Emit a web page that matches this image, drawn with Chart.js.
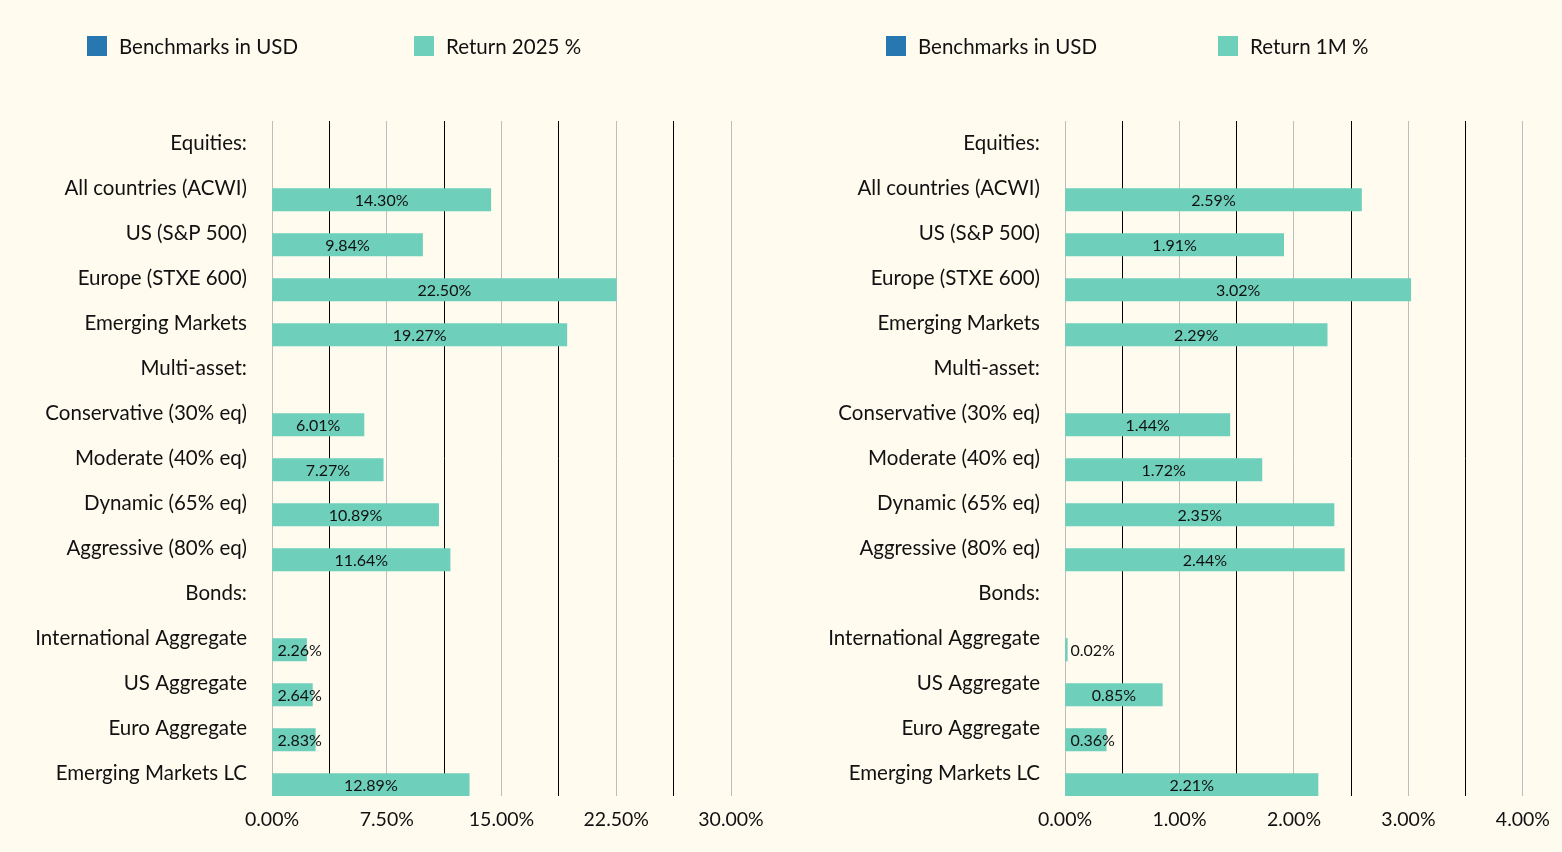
<!DOCTYPE html>
<html>
<head>
<meta charset="utf-8">
<script src="https://cdn.jsdelivr.net/npm/chart.js@4.4.1/dist/chart.umd.min.js"></script>
<style>
  body { margin:0; background:#fffbef; font-family: Lato, "Open Sans", sans-serif; }
  .wrap { position:absolute; top:0; width:781px; height:852px; }
  .legend { position:absolute; top:35px; display:flex; font-size:20.5px; color:#111; }
  .legend .item { display:flex; align-items:center; height:21px; }
  .legend .box { width:20px; height:20px; margin-right:12px; }
</style>
</head>
<body>
<div class="wrap" style="left:0"><div class="legend" id="leg1" style="left:87px"></div><canvas id="c1"></canvas></div>
<div class="wrap" style="left:781px"><div class="legend" id="leg2" style="left:105px"></div><canvas id="c2"></canvas></div>
<script>
// categories shared by both panels
var categories = ["Equities:", "All countries (ACWI)", "US (S&P 500)", "Europe (STXE 600)", "Emerging Markets",
  "Multi-asset:", "Conservative (30% eq)", "Moderate (40% eq)", "Dynamic (65% eq)", "Aggressive (80% eq)",
  "Bonds:", "International Aggregate", "US Aggregate", "Euro Aggregate", "Emerging Markets LC"];

var benchmarks = [null, null, null, null, null, null, null, null, null, null, null, null, null, null, null];
var return2025 = [null, 14.30, 9.84, 22.50, 19.27, null, 6.01, 7.27, 10.89, 11.64, null, 2.26, 2.64, 2.83, 12.89];
var return1M   = [null, 2.59, 1.91, 3.02, 2.29, null, 1.44, 1.72, 2.35, 2.44, null, 0.02, 0.85, 0.36, 2.21];

var blue = "#2778b0";
var teal = "#6ecfbb";

// data labels inside the bars
var barLabels = {
  id: 'barLabels',
  afterDatasetsDraw: function(chart) {
    var ctx = chart.ctx;
    var meta = chart.getDatasetMeta(1);
    var vals = chart.data.datasets[1].data;
    ctx.save();
    ctx.font = '16px Lato, "Open Sans", sans-serif';
    ctx.fillStyle = '#111';
    ctx.textBaseline = 'middle';
    meta.data.forEach(function(bar, i) {
      if (vals[i] == null) return;
      var txt = vals[i].toFixed(2) + '%';
      var w = ctx.measureText(txt).width;
      var bw = bar.x - bar.base;
      if (w + 10 < bw) {
        ctx.textAlign = 'center';
        ctx.fillText(txt, (bar.x + bar.base) / 2, bar.y + 1);
      } else {
        ctx.textAlign = 'left';
        ctx.fillText(txt, bar.base + 5, bar.y + 1);
      }
    });
    ctx.restore();
  }
};

function makeChart(id, legId, label, values, max, step, yWidth, padRight, legW) {
  var chart = new Chart(document.getElementById(id), {
    type: 'bar',
    data: {
      labels: categories,
      datasets: [
        { label: 'Benchmarks in USD', data: benchmarks, backgroundColor: blue },
        { label: label, data: values, backgroundColor: teal }
      ]
    },
    options: {
      indexAxis: 'y',
      responsive: false,
      animation: false,
      devicePixelRatio: 1,
      layout: { padding: { top: 121, right: padRight, left: 0, bottom: 0 } },
      datasets: { bar: { barPercentage: 1, categoryPercentage: 1 } },
      plugins: { legend: { display: false }, tooltip: { enabled: false } },
      scales: {
        x: {
          min: 0, max: max,
          afterFit: function(s) { s.height = 56; },
          border: { display: false },
          grid: {
            drawTicks: false,
            color: function(c) { return c.index % 2 === 0 ? '#bdbdbd' : '#000'; },
            lineWidth: 1
          },
          ticks: {
            stepSize: step / 2,
            padding: 12,
            color: '#111',
            font: { family: 'Lato', size: 19.5 },
            maxRotation: 0,
            autoSkip: false,
            callback: function(v, i) { return i % 2 === 0 ? v.toFixed(2) + '%' : ''; }
          }
        },
        y: {
          afterFit: function(s) { s.width = yWidth; },
          border: { display: false },
          grid: { display: false, drawTicks: false },
          ticks: { padding: 25, color: '#111', font: { family: 'Lato', size: 20.5 }, autoSkip: false }
        }
      }
    },
    plugins: [barLabels]
  });
  var leg = document.getElementById(legId);
  chart.data.datasets.forEach(function(ds) {
    var item = document.createElement('div');
    item.className = 'item';
    item.style.width = legW + 'px';
    item.innerHTML = '<span class="box" style="background:' + ds.backgroundColor + '"></span><span>' + ds.label + '</span>';
    leg.appendChild(item);
  });
  return chart;
}

document.getElementById('c1').width = 781; document.getElementById('c1').height = 852;
document.getElementById('c2').width = 781; document.getElementById('c2').height = 852;
makeChart('c1', 'leg1', 'Return 2025 %', return2025, 30, 7.5, 272, 50, 327);
makeChart('c2', 'leg2', 'Return 1M %', return1M, 4, 1, 284, 38, 332);
</script>
</body>
</html>
